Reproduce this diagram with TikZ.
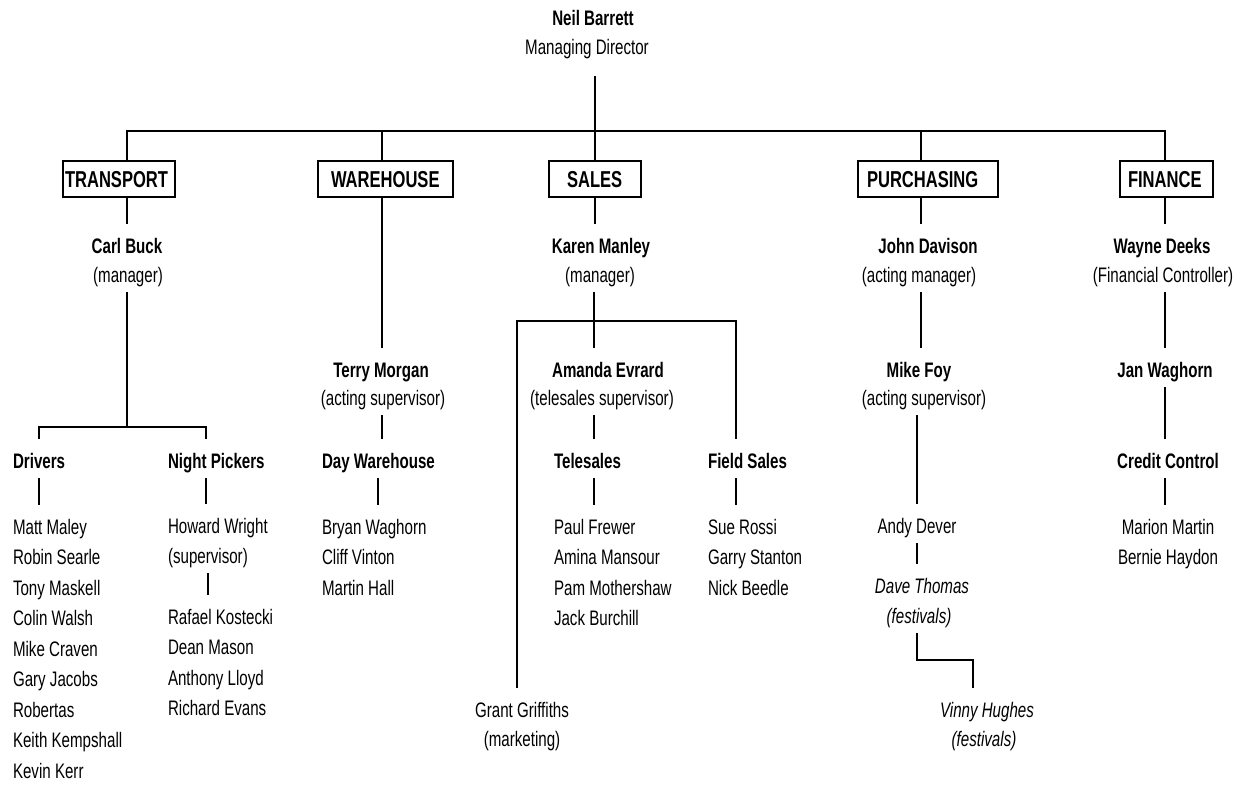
\documentclass[tikz,border=0pt]{standalone}
\usepackage{fontspec}
\setmainfont{Liberation Sans}[FakeStretch=0.72]
\newcommand\fstrut{\rule{0pt}{24pt}}
\newcommand\bodyfs{\fontsize{21}{30.5}\selectfont}
\begin{document}
\begin{tikzpicture}[x=1pt,y=-1pt,
  font=\bodyfs,
  line width=2pt,
  nm/.style={anchor=base,font=\bodyfs\bfseries,text height=24pt,text depth=5pt,inner xsep=0pt,inner ysep=4pt},
  rg/.style={anchor=base,font=\bodyfs,text height=24pt,text depth=5pt,inner xsep=0pt,inner ysep=4pt},
  itl/.style={anchor=base,font=\bodyfs\itshape,text height=24pt,text depth=5pt,inner xsep=0pt,inner ysep=4pt},
  nmw/.style={nm,anchor=base west},
  rgw/.style={rg,anchor=base west},
  lst/.style={anchor=north west,align=left,font=\bodyfs,inner xsep=0pt,inner ysep=4pt},
  dept/.style={draw,line width=2pt,anchor=west,minimum height=36pt,text height=17pt,text depth=0pt,
    inner ysep=0pt,align=left,font=\fontsize{23}{26}\selectfont\bfseries}
]
\useasboundingbox (0,0) rectangle (1246,786);

% top
\node[nm] (nb) at (593,26) {Neil Barrett};
\node[rg] (md) at (587,55) {Managing Director};
\coordinate (mdb) at ([yshift=-11pt]md.south);

% departments
\node[dept,text width=108pt,inner xsep=2pt] (tr) at (62,179) {TRANSPORT};
\node[dept,text width=109pt,inner xsep=13pt] (wh) at (317,179) {WAREHOUSE};
\node[dept,text width=56pt,inner xsep=18pt] (sa) at (548,179) {SALES};
\node[dept,text width=122pt,inner xsep=9pt] (pu) at (857,179) {PURCHASING};
\node[dept,text width=77pt,inner xsep=8pt] (fi) at (1119,179) {FINANCE};

\coordinate (bT) at (127,131);
\coordinate (bW) at (382,131);
\coordinate (bS) at (595,131);
\coordinate (bP) at (921,131);
\coordinate (bF) at (1165,131);

\draw (bT |- tr.north) -- (bT) -- (bF) -- (bF |- fi.north);
\draw (bW) -- (bW |- wh.north);
\draw (bP) -- (bP |- pu.north);
\draw (bS |- mdb) -- (bS |- sa.north);

% TRANSPORT
\node[nm] (cb) at (127,253) {Carl Buck};
\node[rg] (cbt) at (128,282) {(manager)};
\coordinate (tj) at (127,427);
\coordinate (npx) at (206,427);
\node[nmw] (dr) at (12,468) {Drivers};
\node[nmw] (np) at (167,468) {Night Pickers};
\node[lst] (drl) at (12,505) {\fstrut Matt Maley\\Robin Searle\\Tony Maskell\\Colin Walsh\\Mike Craven\\Gary Jacobs\\Robertas\\Keith Kempshall\\Kevin Kerr};
\node[rgw] (hw) at (167,533) {Howard Wright};
\node[rgw] (hws) at (167,563) {(supervisor)};
\node[lst] (npl) at (167,595) {\fstrut Rafael Kostecki\\Dean Mason\\Anthony Lloyd\\Richard Evans};

\draw (bT |- tr.south) -- (bT |- cb.north);
\draw (tj |- cbt.south) -- (tj);
\draw (dr.north) -- (dr.north |- tj) -- (npx) -- (npx |- np.north);
\draw (dr.south) -- (dr.south |- drl.north);
\draw (npx |- np.south) -- (npx |- hw.north);
\draw (hws.south) -- (hws.south |- npl.north);

% WAREHOUSE
\node[nm] (tm) at (381,377) {Terry Morgan};
\node[rg] (tmt) at (383,405) {(acting supervisor)};
\node[nmw] (dw) at (321,468) {Day Warehouse};
\node[lst] (dwl) at (321,505) {\fstrut Bryan Waghorn\\Cliff Vinton\\Martin Hall};

\draw (bW |- wh.south) -- (bW |- tm.north);
\draw (bW |- tmt.south) -- (bW |- dw.north);
\draw (dw.south) -- (dw.south |- dwl.north);

% SALES
\node[nm] (km) at (601,253) {Karen Manley};
\node[rg] (kmt) at (600,282) {(manager)};
\coordinate (sj) at (594,321);
\coordinate (sL) at (517,321);
\coordinate (sR) at (736,321);
\node[nm] (ae) at (608,377) {Amanda Evrard};
\node[rg] (aet) at (602,405) {(telesales supervisor)};
\node[nmw] (ts) at (553,468) {Telesales};
\node[lst] (tsl) at (553,505) {\fstrut Paul Frewer\\Amina Mansour\\Pam Mothershaw\\Jack Burchill};
\node[nmw] (fs) at (707,468) {Field Sales};
\node[lst] (fsl) at (707,505) {\fstrut Sue Rossi\\Garry Stanton\\Nick Beedle};
\node[rg] (gg) at (522,717) {Grant Griffiths};
\node[rg] (ggt) at (522,746) {(marketing)};

\draw (bS |- sa.south) -- (bS |- km.north);
\draw (sj |- kmt.south) -- (sj |- ae.north);
\draw (gg.north -| sL) -- (sL) -- (sR) -- (sR |- fs.north);
\draw (sj |- aet.south) -- (sj |- ts.north);
\draw (sj |- ts.south) -- (sj |- tsl.north);
\draw (sR |- fs.south) -- (sR |- fsl.north);

% PURCHASING
\node[nm] (jd) at (928,253) {John Davison};
\node[rg] (jdt) at (919,282) {(acting manager)};
\node[nm] (mf) at (919,377) {Mike Foy};
\node[rg] (mft) at (924,405) {(acting supervisor)};
\node[rg] (ad) at (917,533) {Andy Dever};
\node[itl] (dt) at (922,593) {Dave Thomas};
\node[itl] (dtt) at (919,623) {(festivals)};
\node[itl] (vh) at (987,717) {Vinny Hughes};
\node[itl] (vht) at (984,746) {(festivals)};
\coordinate (vj) at (973,660);

\draw (bP |- pu.south) -- (bP |- jd.north);
\draw (bP |- jdt.south) -- (bP |- mf.north);
\draw (ad.north |- mft.south) -- (ad.north);
\draw (ad.south) -- (ad.south |- dt.north);
\draw (ad.south |- dtt.south) -- (ad.south |- vj) -- (vj) -- (vj |- vh.north);

% FINANCE
\node[nm] (wd) at (1162,253) {Wayne Deeks};
\node[rg] (wdt) at (1163,282) {(Financial Controller)};
\node[nm] (jw) at (1165,377) {Jan Waghorn};
\node[nm] (cc) at (1168,468) {Credit Control};
\node[lst,anchor=north,align=center] (fil) at (1168,505) {\fstrut Marion Martin\\Bernie Haydon};

\draw (bF |- fi.south) -- (bF |- wd.north);
\draw (bF |- wdt.south) -- (bF |- jw.north);
\draw (bF |- jw.south) -- (bF |- cc.north);
\draw (bF |- cc.south) -- (bF |- fil.north);
\end{tikzpicture}
\end{document}
